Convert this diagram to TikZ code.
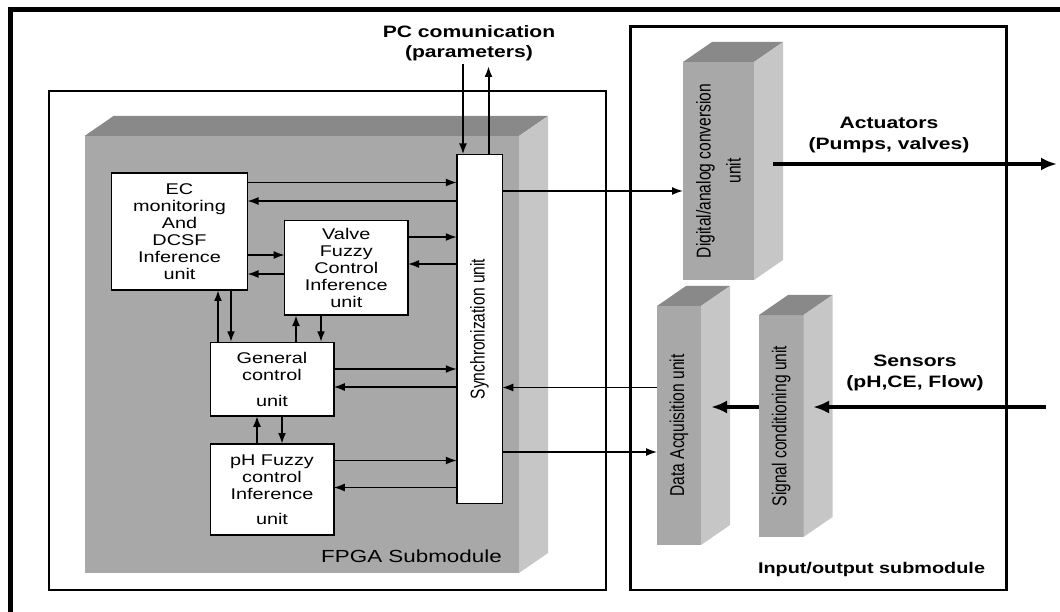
\documentclass[tikz,border=0pt]{standalone}
\usepackage{fontspec}
\setmainfont{Liberation Sans}[FakeStretch=1.28]
\newfontfamily\rotfont{Liberation Sans}[FakeStretch=0.78]
\usetikzlibrary{arrows.meta,calc}
\definecolor{frontgray}{HTML}{A8A8A8}
\definecolor{topgray}{HTML}{898989}
\definecolor{sidegray}{HTML}{C6C6C6}
\begin{document}
\begin{tikzpicture}[x=1pt,y=-1pt,>={Latex[length=11pt,width=8pt]},
    frame/.style={draw,line width=2.5pt,inner sep=0pt,outer sep=0pt},
    face/.style={fill=frontgray,inner sep=0pt,outer sep=0pt},
    unit/.style={draw,fill=white,line width=1.5pt,inner sep=0pt,outer sep=0pt,
                 align=center,font=\fontsize{15.5}{17}\selectfont},
    rottext/.style={rotate=90,align=center,font=\rotfont\fontsize{20}{30}\selectfont},
    tag/.style={align=center,font=\bfseries\fontsize{16.5}{20.5}\selectfont},
    thin arrow/.style={->,line width=1.5pt},
    up arrow/.style={->,line width=2pt},
    thick arrow/.style={->,line width=4.5pt,>={Latex[length=16pt,width=13pt]}}]

  \useasboundingbox (0,0) rectangle (1060,612);

  % outer frame (cut at right and bottom)
  \draw[line width=5pt] (10.8,640) -- (10.8,9.3) -- (1090,9.3);

  % the two submodules
  \node[frame,minimum width=557,minimum height=499] (fpgabox) at (327.5,340.5) {};
  \node[frame,minimum width=376,minimum height=563.6] (iobox) at (818.7,308.2) {};

  % gray blocks
  \node[face,minimum width=434.5,minimum height=437] (fpga) at (301.75,354.5) {};
  \node[face,minimum width=71,minimum height=218] (dac) at (718.5,171) {};
  \node[face,minimum width=44,minimum height=239] (daq) at (679,425.5) {};
  \node[face,minimum width=44.5,minimum height=222] (scu) at (781.25,426) {};
  \foreach \b in {fpga,dac,daq,scu}{
    \fill[topgray] (\b.north west) -- ++(29,-20) -- ($(\b.north east)+(29,-20)$)
      -- (\b.north east) -- cycle;
    \fill[sidegray] (\b.north east) -- ++(29,-20) -- ($(\b.south east)+(29,-20)$)
      -- (\b.south east) -- cycle;
  }
  \node[rottext] (dactxt) at (dac) {Digital/analog conversion\\unit};
  \node[rottext] (daqtxt) at (daq) {Data Acquisition unit};
  \node[rottext] (scutxt) at (scu) {Signal conditioning unit};

  % FPGA units
  \node[unit,minimum width=136,minimum height=117] (ec) at (179.5,231.5)
    {EC\\monitoring\\And\\DCSF\\Inference\\unit};
  \node[unit,minimum width=123.4,minimum height=94.6] (vfc) at (346.3,267.7)
    {Valve\\Fuzzy\\Control\\Inference\\unit};
  \node[unit,minimum width=123.5,minimum height=73.5] (gcu) at (272,379)
    {General\\control\\[9pt]unit};
  \node[unit,minimum width=123.5,minimum height=91] (ph) at (272,489.5)
    {pH Fuzzy\\control\\Inference\\[8pt]unit};
  \node[unit,minimum width=45.5,minimum height=349] (sync) at (479.5,329) {};
  \node[rottext] (synctxt) at (sync) {Synchronization unit};

  % links inside the FPGA
  \draw[thin arrow] (ec.east |- 0,182.5) -- (sync.west |- 0,182.5);
  \draw[thin arrow] (sync.west |- 0,201) -- (ec.east |- 0,201);
  \draw[thin arrow] (ec.east |- 0,255) -- (vfc.west |- 0,255);
  \draw[thin arrow] (vfc.west |- 0,274) -- (ec.east |- 0,274);
  \draw[thin arrow] (vfc.east |- 0,237) -- (sync.west |- 0,237);
  \draw[thin arrow] (sync.west |- 0,264) -- (vfc.east |- 0,264);
  \draw[thin arrow] (gcu.east |- 0,369) -- (sync.west |- 0,369);
  \draw[thin arrow] (sync.west |- 0,387) -- (gcu.east |- 0,387);
  \draw[thin arrow] (ph.east |- 0,460.5) -- (sync.west |- 0,460.5);
  \draw[thin arrow] (sync.west |- 0,487.5) -- (ph.east |- 0,487.5);

  \draw[up arrow] (gcu.north -| 218,0) -- (ec.south -| 218,0);
  \draw[up arrow] (ec.south -| 231,0) -- (gcu.north -| 231,0);
  \draw[up arrow] (gcu.north -| 296,0) -- (vfc.south -| 296,0);
  \draw[up arrow] (vfc.south -| 321,0) -- (gcu.north -| 321,0);
  \draw[up arrow] (ph.north -| 257,0) -- (gcu.south -| 257,0);
  \draw[up arrow] (gcu.south -| 282,0) -- (ph.north -| 282,0);

  % links to the input/output submodule
  \draw[thin arrow] (sync.east |- 0,191) -- (dac.west |- 0,191);
  \draw[thin arrow] (daq.west |- 0,387.5) -- (sync.east |- 0,387.5);
  \draw[thin arrow] (sync.east |- 0,452) -- (daq.west |- 0,452);

  % PC link
  \coordinate (pcin) at (463,64);
  \coordinate (pcout) at (488.5,66);
  \draw[up arrow] (pcin) -- (sync.north -| pcin);
  \draw[up arrow] (sync.north -| pcout) -- (pcout);
  \node[tag] (pc) at (469,43) {PC comunication\\(parameters)};

  % field side
  \coordinate (dacout) at (773,164);
  \coordinate (actout) at (1057,164);
  \coordinate (sensin) at (1046,407);
  \coordinate (scuin) at (813,407);
  \coordinate (daqin) at (711,407);
  \draw[thick arrow] (dacout) -- (actout);
  \draw[thick arrow] (sensin) -- (scuin);
  \draw[thick arrow] (scu.west |- daqin) -- (daqin);
  \node[tag] (act) at (889,135) {Actuators\\(Pumps, valves)};
  \node[tag] (sens) at (915,373) {Sensors\\(pH,CE, Flow)};

  % module names
  \node[font=\fontsize{17.5}{20}\selectfont] (fpganame) at (411.5,556) {FPGA Submodule};
  \node[font=\bfseries\fontsize{15.5}{18}\selectfont] (ioname) at (871.5,569) {Input/output submodule};
\end{tikzpicture}
\end{document}
